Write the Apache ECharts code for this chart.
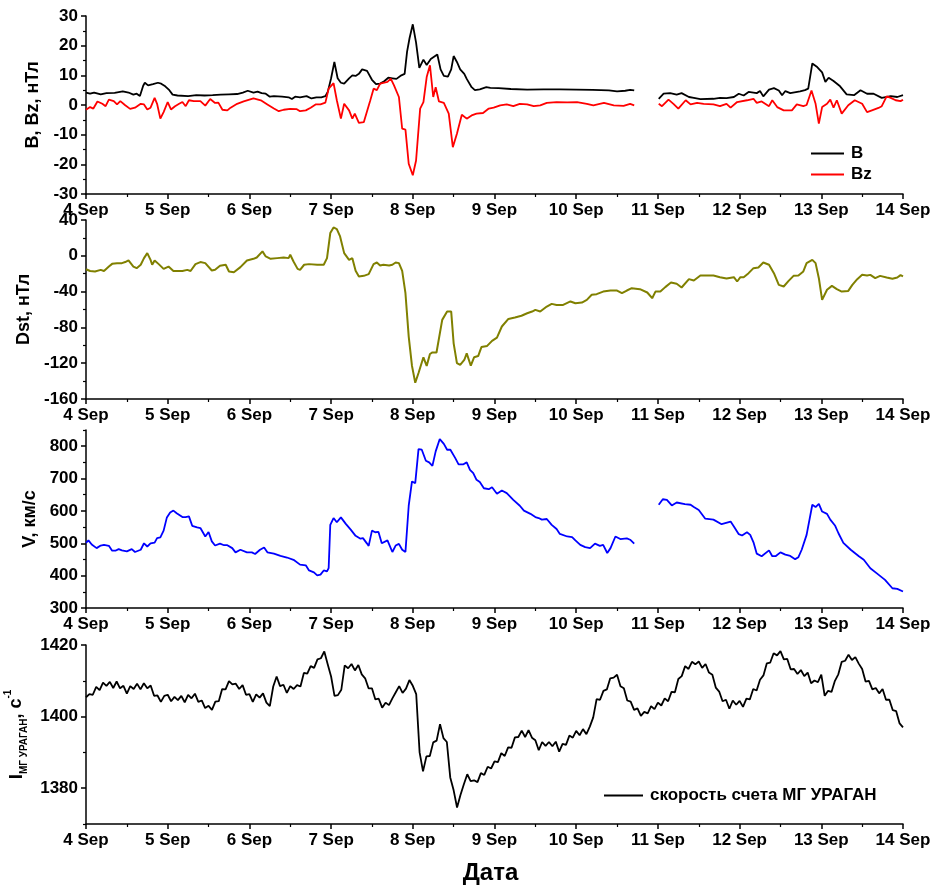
<!DOCTYPE html>
<html><head><meta charset="utf-8">
<script src="https://cdn.jsdelivr.net/npm/echarts@6/dist/echarts.min.js"></script>
<style>html,body{margin:0;padding:0;background:#fff}#c{width:932px;height:885px}</style>
</head><body><div id="c"></div>
<script>
// ---------- DATA (days of September) ----------
const bTime = [4.00,4.05,4.10,4.18,4.25,4.35,4.45,4.52,4.58,4.62,4.66,4.70,4.72,4.76,4.82,4.88,4.92,4.97,5.02,5.06,5.12,5.25,5.35,5.45,5.55,5.65,5.75,5.85,5.92,5.98,6.05,6.10,6.15,6.20,6.25,6.30,6.40,6.48,6.52,6.56,6.62,6.70,6.76,6.82,6.88,6.93,6.96,7.00,7.04,7.08,7.12,7.16,7.22,7.26,7.30,7.34,7.38,7.44,7.50,7.55,7.60,7.65,7.70,7.75,7.80,7.86,7.90,7.93,7.96,8.00,8.04,8.08,8.13,8.17,8.22,8.30,8.34,8.38,8.43,8.47,8.50,8.54,8.58,8.63,8.66,8.72,8.76,8.82,8.90,8.95,9.05,9.20,9.40,9.60,9.80,10.00,10.20,10.40,10.50,10.60,10.66,10.71,10.85,11.01,11.07,11.15,11.23,11.29,11.38,11.44,11.52,11.68,11.76,11.84,11.93,11.99,12.05,12.11,12.21,12.25,12.29,12.36,12.42,12.48,12.52,12.56,12.62,12.74,12.80,12.84,12.89,12.95,13.01,13.05,13.09,13.15,13.23,13.31,13.40,13.48,13.56,13.64,13.74,13.85,13.93,14.00];
const bVal = [4.2,3.8,4.2,3.6,4.0,4.1,4.6,4.2,3.5,3.8,3.0,6.5,7.5,6.6,7.0,7.5,7.2,6.3,5.0,3.5,3.2,3.0,3.3,3.2,3.3,3.5,3.6,3.7,4.2,4.8,4.2,4.5,4.0,3.8,2.8,3.0,2.8,2.6,2.0,2.8,2.6,3.0,2.2,2.6,2.6,3.0,4.5,9.0,14.5,9.0,7.5,7.2,9.0,10.0,9.8,10.5,12.0,11.5,8.5,7.0,7.2,8.0,9.2,9.0,8.8,10.0,10.5,18.0,22.5,27.2,21.0,12.5,15.3,13.5,15.5,17.0,12.0,9.8,9.6,12.0,16.5,14.5,12.0,10.5,8.8,6.0,5.0,5.3,6.0,5.8,5.7,5.4,5.2,5.3,5.3,5.2,5.1,4.9,4.6,4.8,5.1,4.9,null,2.1,3.8,4.0,3.5,4.0,2.7,2.4,2.0,2.1,2.4,2.3,2.7,3.8,3.2,4.4,4.0,4.7,2.9,5.2,5.7,4.9,3.3,4.7,4.0,4.6,5.0,5.5,14.0,12.8,11.0,7.8,9.2,8.1,6.3,3.6,3.3,5.0,3.8,3.8,2.4,3.0,2.7,3.3];

const bzTime = [4.00,4.05,4.09,4.14,4.20,4.24,4.28,4.34,4.38,4.42,4.48,4.54,4.60,4.67,4.71,4.75,4.79,4.84,4.87,4.91,4.95,5.00,5.04,5.09,5.14,5.18,5.22,5.26,5.32,5.40,5.46,5.52,5.58,5.62,5.67,5.73,5.77,5.85,5.93,6.05,6.14,6.22,6.30,6.36,6.42,6.50,6.58,6.62,6.69,6.75,6.81,6.87,6.93,6.97,7.03,7.07,7.12,7.16,7.22,7.26,7.29,7.34,7.40,7.42,7.48,7.52,7.56,7.60,7.69,7.73,7.77,7.83,7.87,7.91,7.95,8.00,8.04,8.09,8.13,8.17,8.21,8.25,8.28,8.32,8.38,8.44,8.49,8.54,8.60,8.66,8.72,8.78,8.86,8.93,8.99,9.07,9.15,9.23,9.31,9.40,9.48,9.56,9.64,9.76,9.89,10.01,10.13,10.21,10.34,10.46,10.58,10.66,10.71,10.85,11.01,11.05,11.13,11.19,11.25,11.34,11.40,11.48,11.56,11.68,11.76,11.84,11.89,11.97,12.09,12.17,12.21,12.27,12.36,12.40,12.46,12.54,12.64,12.70,12.78,12.82,12.88,12.93,12.97,13.01,13.07,13.11,13.15,13.19,13.25,13.33,13.41,13.50,13.56,13.62,13.70,13.74,13.80,13.85,13.91,13.97,14.00];
const bzVal = [-1.6,-0.7,-1.2,1.2,0.4,-0.4,1.8,1.3,0.2,1.3,-0.1,-1.3,-0.9,0.4,0.2,-1.5,-0.9,2.4,0.4,-4.6,-2.4,1.0,-1.5,-0.4,0.4,1.0,-0.4,1.6,1.3,1.3,-0.2,2.0,0.7,0.8,-1.6,-1.8,-0.9,0.4,1.2,2.2,1.6,0.2,-1.2,-2.1,-1.6,-1.3,-1.4,-2.1,-1.8,-0.9,0.2,0.2,0.8,5.5,7.4,1.6,-4.6,0.4,-1.8,-4.6,-2.9,-6.0,-5.8,-6.3,1.6,5.5,5.0,7.2,7.8,8.9,6.6,2.7,-8.0,-8.3,-19.8,-23.7,-18.7,-1.2,1.0,9.4,13.4,2.7,6.0,1.2,0.7,-2.9,-14.2,-9.7,-3.3,-4.6,-3.5,-2.9,-2.7,-1.2,-0.9,-0.1,0.2,-0.4,0.4,0.2,-0.4,-0.1,0.7,1.0,0.9,1.0,0.4,-0.1,0.7,-0.1,-0.3,0.4,-0.1,null,0.4,-0.4,1.8,0.4,-1.2,1.6,0.2,0.7,0.4,0.2,-0.4,0.4,-0.9,1.0,1.6,2.1,0.7,1.2,-0.4,1.6,-0.7,-1.8,-1.8,0.2,-0.4,0.0,4.9,0.4,-6.3,-0.7,0.4,1.8,-0.9,1.6,-2.9,-0.1,1.6,0.4,-2.4,-1.8,-1.0,-0.4,2.9,2.4,1.6,1.3,1.8];

const dstTime = [4.00,4.05,4.11,4.13,4.18,4.22,4.28,4.32,4.38,4.44,4.48,4.52,4.58,4.62,4.67,4.71,4.75,4.79,4.81,4.84,4.89,4.95,5.01,5.07,5.18,5.24,5.28,5.34,5.40,5.46,5.54,5.58,5.64,5.71,5.75,5.81,5.89,5.97,6.05,6.09,6.16,6.20,6.26,6.34,6.42,6.48,6.50,6.54,6.59,6.62,6.67,6.73,6.83,6.91,6.95,6.99,7.03,7.07,7.11,7.16,7.22,7.26,7.30,7.34,7.40,7.46,7.52,7.56,7.60,7.64,7.71,7.75,7.79,7.83,7.87,7.91,7.95,7.99,8.03,8.07,8.13,8.17,8.21,8.24,8.29,8.36,8.42,8.47,8.50,8.54,8.58,8.63,8.66,8.71,8.75,8.80,8.84,8.91,8.97,9.03,9.09,9.17,9.25,9.33,9.40,9.46,9.50,9.56,9.64,9.70,9.76,9.84,9.93,9.99,10.07,10.13,10.19,10.25,10.33,10.42,10.50,10.56,10.62,10.68,10.78,10.87,10.93,10.97,11.03,11.09,11.16,11.23,11.29,11.38,11.44,11.52,11.68,11.76,11.84,11.93,11.97,12.01,12.05,12.11,12.17,12.23,12.29,12.36,12.42,12.48,12.54,12.60,12.66,12.72,12.78,12.82,12.89,12.93,12.97,13.01,13.07,13.13,13.19,13.25,13.27,13.33,13.38,13.44,13.50,13.56,13.60,13.66,13.72,13.80,13.87,13.93,13.97,14.00];
const dstVal = [-15,-17,-17.5,-18.7,-15.7,-17,-12,-9,-8.2,-8.2,-7,-5.2,-12,-13.8,-10,-2.6,3,-4.5,-10,-5.2,-9.3,-14.6,-12,-17,-17,-15.7,-17,-9.3,-7,-8.2,-16.4,-15.7,-11.2,-10,-17.5,-18.3,-12.7,-5.2,-3.4,-1.9,4.9,-0.7,-3.4,-2.6,-1.9,-2.6,1.1,-6.3,-14.6,-15.7,-10,-9.3,-10,-10,-2.6,25.4,31.7,29.9,21.6,3,-4.5,-2.6,-16.8,-23,-22.4,-20.5,-9.3,-7.5,-10.8,-10,-10.8,-10,-7.5,-8.2,-16.8,-41.8,-90.3,-123,-141.8,-131,-113.4,-123,-109.7,-108,-108,-71.6,-62.3,-62.3,-97.8,-120,-122,-116.4,-109,-122.8,-113.4,-112,-102,-100.7,-95,-91.4,-79,-70.5,-69,-67,-64.2,-62.3,-60.4,-62.3,-56.7,-53.7,-54.9,-54.9,-51,-53,-52.2,-49.2,-43.6,-42.9,-40,-38.8,-38.8,-41.8,-38.8,-36.2,-37.3,-41,-47.4,-40,-40,-35,-29.9,-31.3,-35.4,-26.1,-27.6,-22,-22,-23.9,-25.4,-23.9,-28.7,-23.9,-23.9,-19.4,-13.8,-13,-7.5,-10,-19.4,-32.5,-34.3,-28,-22.4,-22,-17.5,-8.2,-4.5,-8.2,-25,-49.2,-38,-33.6,-37.3,-40,-38,-39.2,-32.5,-26.1,-21.3,-22,-21.3,-25,-22.4,-24.3,-25.7,-24.3,-21.6,-23.1];

const vTime = [4.00,4.03,4.07,4.13,4.18,4.22,4.28,4.32,4.36,4.40,4.44,4.50,4.56,4.60,4.67,4.71,4.75,4.79,4.84,4.87,4.91,4.95,4.99,5.03,5.07,5.11,5.18,5.22,5.26,5.30,5.36,5.40,5.46,5.50,5.54,5.58,5.64,5.69,5.73,5.79,5.83,5.89,5.97,6.03,6.07,6.13,6.18,6.22,6.30,6.38,6.46,6.54,6.62,6.69,6.73,6.79,6.83,6.87,6.91,6.95,6.97,6.99,7.03,7.07,7.12,7.18,7.24,7.30,7.36,7.39,7.44,7.46,7.50,7.54,7.58,7.62,7.69,7.71,7.75,7.79,7.83,7.87,7.91,7.95,7.99,8.03,8.07,8.11,8.16,8.20,8.24,8.28,8.33,8.38,8.42,8.46,8.52,8.56,8.62,8.66,8.70,8.74,8.78,8.82,8.87,8.93,8.97,9.03,9.09,9.15,9.23,9.31,9.36,9.44,9.50,9.54,9.58,9.64,9.70,9.76,9.80,9.89,9.95,9.99,10.05,10.11,10.17,10.23,10.29,10.33,10.38,10.42,10.48,10.54,10.62,10.66,10.71,10.85,11.01,11.06,11.11,11.17,11.23,11.33,11.40,11.44,11.50,11.58,11.68,11.78,11.89,11.93,11.99,12.03,12.09,12.13,12.17,12.21,12.27,12.36,12.40,12.44,12.50,12.56,12.62,12.68,12.72,12.76,12.82,12.89,12.93,12.97,13.01,13.07,13.11,13.17,13.21,13.27,13.36,13.46,13.52,13.60,13.68,13.78,13.87,13.93,14.00];
const vVal = [501,509,496,485,493,495,492,477,477,482,478,475,482,473,480,500,490,500,502,516,518,539,580,595,601,593,581,581,583,554,549,547,521,535,506,493,499,494,494,485,472,480,472,472,467,480,487,472,468,461,456,449,434,432,416,410,401,403,416,413,423,557,578,565,580,560,542,523,514,516,499,492,539,534,535,500,509,509,473,493,498,480,473,616,691,686,791,789,755,750,739,784,822,807,789,789,763,744,744,750,727,717,696,689,670,667,673,653,663,655,634,616,601,591,581,578,573,575,557,544,529,521,519,509,495,488,485,499,492,495,470,485,521,513,515,511,499,null,619,636,634,617,626,621,619,612,603,576,573,559,567,552,528,524,534,526,503,468,460,478,460,460,472,465,461,451,457,480,526,619,612,622,598,591,573,554,531,501,480,460,449,423,407,387,361,359,351];

// MG URAGAN count rate, hourly from 4 Sep 00:00
const muonStart = 4;
const muonStepHours = 1;
const muonVal = [
1405.4,1406.3,1406.1,1408.3,1407.4,1409.5,1408.6,1409.7,1408.0,1409.8,1407.9,1408.6,1406.4,1408.5,1407.7,1409.2,1407.6,1409.3,1407.9,1408.7,1405.8,1405.9,1404.1,1405.8,
1406.1,1404.3,1405.5,1404.6,1405.8,1404.0,1406.1,1405.1,1406.4,1404.1,1404.5,1402.4,1403.0,1401.9,1404.2,1404.3,1407.7,1407.6,1409.9,1409.0,1409.2,1407.7,1408.8,1406.1,
1406.3,1404.1,1406.2,1405.3,1406.5,1403.9,1402.9,1408.4,1411.2,1408.5,1408.9,1406.6,1408.5,1407.7,1408.8,1408.4,1412.2,1412.0,1414.1,1413.6,1416.0,1416.3,1418.2,1414.6,
1411.2,1405.8,1406.0,1407.5,1414.3,1413.5,1414.7,1412.9,1414.4,1411.8,1410.7,1407.9,1407.9,1404.8,1405.0,1402.5,1403.9,1403.2,1405.1,1406.8,1408.5,1406.6,1407.8,1410.2,
1408.6,1406.3,1390.0,1384.7,1388.9,1389.0,1392.8,1393.3,1397.9,1394.0,1392.9,1383.0,1379.4,1374.6,1378.1,1381.1,1383.9,1382.0,1382.2,1381.7,1384.2,1383.7,1386.0,1385.5,
1387.5,1387.3,1389.8,1389.0,1391.4,1391.3,1394.2,1394.3,1396.1,1394.3,1396.2,1394.1,1393.4,1390.6,1392.9,1391.8,1392.9,1391.7,1393.0,1390.2,1392.4,1392.1,1394.7,1394.1,
1396.0,1394.8,1396.5,1395.1,1397.2,1399.8,1404.9,1404.7,1407.2,1407.6,1410.7,1410.9,1411.7,1408.5,1407.9,1404.5,1404.2,1401.9,1402.3,1400.2,1401.3,1400.9,1402.9,1402.1,
1403.9,1403.1,1405.1,1404.3,1406.9,1406.8,1410.5,1411.3,1414.1,1413.3,1415.3,1414.6,1415.4,1413.6,1414.7,1412.3,1411.7,1408.1,1407.0,1404.3,1404.7,1402.2,1404.5,1403.3,
1404.4,1402.7,1405.0,1404.8,1407.7,1407.3,1410.3,1411.5,1414.9,1415.1,1417.7,1417.1,1418.3,1416.0,1416.1,1413.2,1413.3,1411.9,1413.0,1411.3,1412.3,1409.3,1410.1,1409.6,
1411.7,1405.8,1407.2,1406.9,1410.0,1411.8,1415.3,1415.6,1417.3,1415.8,1416.6,1414.8,1413.3,1409.8,1410.0,1407.6,1408.0,1406.5,1407.7,1404.7,1404.7,1401.8,1401.5,1398.1,
1397.0];

// Axis ticks
const yTicks3 = [300,400,500,600,700,800];
const yMinor3 = [350,450,550,650,750,850];
const yTicks4 = [1380,1400,1420];
const yMinor4 = [1370,1390,1410];
const legend1 = ['B','Bz'];
const muonName = 'скорость счета МГ УРАГАН';

// ---------- build ----------
const zip = (t, v) => t.map((x, i) => [x, v[i]]);
const muonData = muonVal.map((v, i) => [muonStart + i * muonStepHours / 24, v]);

const FONT = '"Liberation Sans", Arial, sans-serif';
const AX = { color: '#000', width: 1.5 };
const lbl = { fontSize: 17, fontWeight: 'bold', color: '#000', fontFamily: FONT };
const plain = v => String(v);
const legText = Object.assign({ padding: [0, 0, 0, 2] }, lbl);

const grids = [
  { left: 86, right: 29, top: 16, height: 178 },
  { left: 86, right: 29, top: 220, height: 179 },
  { left: 86, right: 29, top: 430, height: 178 },
  { left: 86, right: 29, top: 645, height: 179 }
].map(g => Object.assign({ containLabel: false, outerBoundsMode: 'none' }, g));

function xAx(i, extra) {
  return Object.assign({
    type: 'value', gridIndex: i, position: 'bottom', min: 4, max: 14, interval: 1,
    axisLine: { onZero: false, lineStyle: AX },
    axisTick: { length: 5, lineStyle: AX },
    minorTick: { show: true, splitNumber: 2, length: 3, lineStyle: { color: '#000', width: 1.2 } },
    splitLine: { show: false }, minorSplitLine: { show: false },
    axisLabel: Object.assign({ margin: 8, showMinLabel: true, showMaxLabel: true, hideOverlap: false,
      formatter: v => v + ' Sep' }, lbl)
  }, extra || {});
}
function yAx(i, o) {
  return Object.assign({
    type: 'value', gridIndex: i, position: 'left', nameLocation: 'middle', nameRotate: 90,
    nameTextStyle: { fontSize: 18, fontWeight: 'bold', color: '#000', fontFamily: FONT },
    axisLine: { show: true, onZero: false, lineStyle: AX },
    axisTick: { length: 5, lineStyle: AX },
    splitLine: { show: false }, minorSplitLine: { show: false },
    axisLabel: Object.assign({ margin: 8, showMinLabel: true, showMaxLabel: true, formatter: plain }, lbl)
  }, o);
}
function yMinorAx(i, min, max, vals) {
  return { type: 'value', gridIndex: i, position: 'left', offset: 0, min, max,
    axisLine: { show: false, onZero: false }, axisLabel: { show: false }, splitLine: { show: false },
    axisTick: { show: true, length: 3, customValues: vals, lineStyle: { color: '#000', width: 1.2 } } };
}

const option = {
  backgroundColor: '#fff',
  animation: false,
  textStyle: { fontFamily: FONT },
  grid: grids,
  xAxis: [xAx(0), xAx(1), xAx(2), xAx(3, { name: 'Дата', nameLocation: 'middle', nameGap: 37,
    nameTextStyle: { fontSize: 24, fontWeight: 'bold', color: '#000', fontFamily: FONT, padding: [0, 8, 0, 0] } })],
  yAxis: [
    yAx(0, { min: -30, max: 30, interval: 10, name: 'B, Bz, нТл', nameGap: 42,
      minorTick: { show: true, splitNumber: 2, length: 3, lineStyle: { color: '#000', width: 1.2 } } }),
    yAx(1, { min: -160, max: 40, interval: 40, name: 'Dst, нТл', nameGap: 43,
      minorTick: { show: true, splitNumber: 2, length: 3, lineStyle: { color: '#000', width: 1.2 } } }),
    yAx(2, { min: 300, max: 850, name: 'V, км/с', nameGap: 47,
      axisTick: { length: 5, lineStyle: AX, customValues: yTicks3 },
      axisLabel: Object.assign({ margin: 8, customValues: yTicks3, formatter: plain }, lbl) }),
    yMinorAx(2, 300, 850, yMinor3),
    yAx(3, { min: 1370, max: 1420, nameGap: 50,
      name: '{i|I}{sub|МГ УРАГАН}{n|, с}{sup|-1}',
      nameTextStyle: { fontWeight: 'bold', color: '#000', fontFamily: FONT, lineHeight: 26,
        rich: {
          i: { fontSize: 19, fontWeight: 'bold', fontFamily: FONT, color: '#000' },
          sub: { fontSize: 10, fontWeight: 'bold', fontFamily: FONT, color: '#000', verticalAlign: 'bottom', lineHeight: 12 },
          n: { fontSize: 18, fontWeight: 'bold', fontFamily: FONT, color: '#000' },
          sup: { fontSize: 10, fontWeight: 'bold', fontFamily: FONT, color: '#000', verticalAlign: 'top', lineHeight: 12 }
        } },
      axisTick: { length: 5, lineStyle: AX, customValues: yTicks4 },
      axisLabel: Object.assign({ margin: 8, customValues: yTicks4, formatter: plain }, lbl) }),
    yMinorAx(3, 1370, 1420, yMinor4)
  ],
  legend: [
    { data: legend1, orient: 'vertical', left: 811, top: 145, padding: 0, icon: 'rect', itemWidth: 33, itemHeight: 2, itemGap: 4,
      textStyle: legText, selectedMode: false },
    { data: [muonName], left: 604, top: 787, padding: 0, icon: 'rect', itemWidth: 39, itemHeight: 2,
      textStyle: legText, selectedMode: false }
  ],
  series: [
    { name: 'B', type: 'line', xAxisIndex: 0, yAxisIndex: 0, data: zip(bTime, bVal), showSymbol: false, symbol: 'none',
      lineStyle: { color: '#000', width: 1.8 }, itemStyle: { color: '#000' } },
    { name: 'Bz', type: 'line', xAxisIndex: 0, yAxisIndex: 0, data: zip(bzTime, bzVal), showSymbol: false, symbol: 'none',
      lineStyle: { color: '#ff0000', width: 1.8 }, itemStyle: { color: '#ff0000' } },
    { name: 'Dst', type: 'line', xAxisIndex: 1, yAxisIndex: 1, data: zip(dstTime, dstVal), showSymbol: false, symbol: 'none',
      lineStyle: { color: '#808000', width: 2 }, itemStyle: { color: '#808000' } },
    { name: 'V', type: 'line', xAxisIndex: 2, yAxisIndex: 2, data: zip(vTime, vVal), showSymbol: false, symbol: 'none',
      lineStyle: { color: '#0000ff', width: 1.8 }, itemStyle: { color: '#0000ff' } },
    { name: muonName, type: 'line', xAxisIndex: 3, yAxisIndex: 4, data: muonData, showSymbol: false, symbol: 'none',
      lineStyle: { color: '#000', width: 1.8 }, itemStyle: { color: '#000' } }
  ]
};

const chart = echarts.init(document.getElementById('c'), null, { renderer: 'canvas' });
chart.setOption(option);
</script>
</body></html>
